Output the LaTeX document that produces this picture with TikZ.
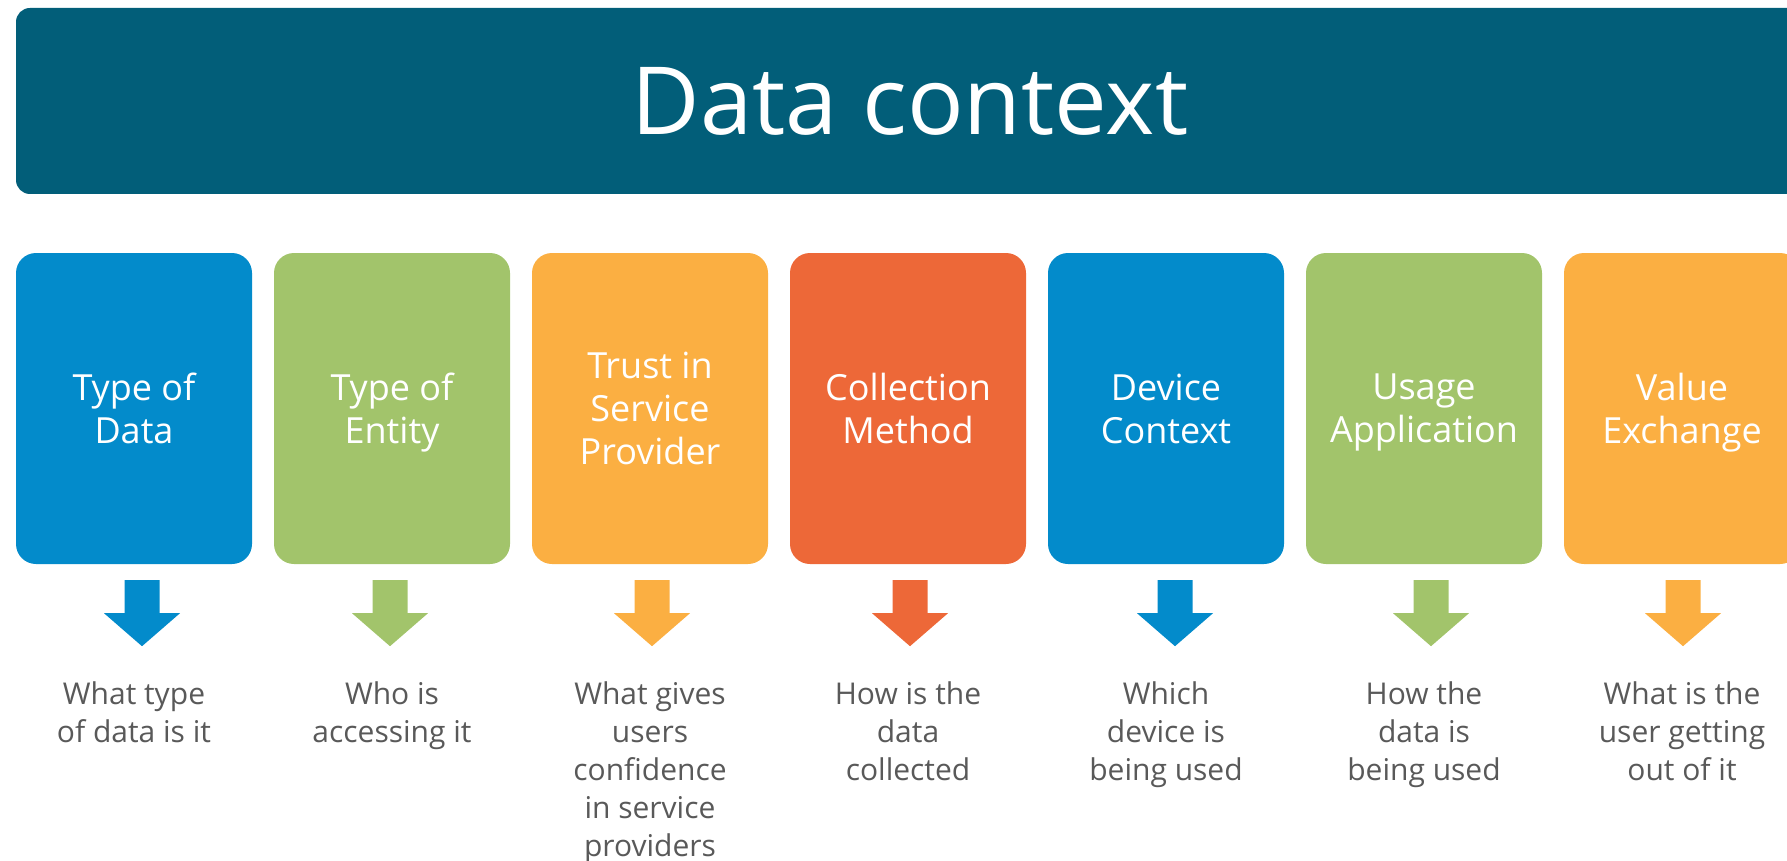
\documentclass[tikz,border=0pt]{standalone}
\usepackage{fontspec}
\setmainfont{Open Sans}
\definecolor{hdrteal}{HTML}{025E79}
\definecolor{tblue}{HTML}{038BCB}
\definecolor{tgreen}{HTML}{A2C46B}
\definecolor{torange}{HTML}{FBAF42}
\definecolor{tred}{HTML}{ED6838}
\definecolor{questgray}{HTML}{595959}

\begin{document}
\begin{tikzpicture}[x=1pt, y=-1pt,
    header/.style={fill=hdrteal, rounded corners=14pt, minimum width=1788pt, minimum height=186pt, inner sep=0pt, text=white, font=\fontsize{94}{108}\selectfont},
    topic/.style={rounded corners=20pt, minimum width=236pt, minimum height=311pt, inner sep=0pt, text=white, align=center, font=\fontsize{36}{43}\selectfont},
    question/.style={anchor=north, inner sep=0pt, text=questgray, align=center, font=\fontsize{30}{38}\selectfont}]
\useasboundingbox (0,0) rectangle (1787,861);
\clip (0,0) rectangle (1787,861);

% Title bar
\node[header] (title) at (910,101) {Data context};

% Topics with their arrows and questions (descenders smashed so all titles sit alike)
\foreach \i/\col/\topic/\quest/\dx in {
    1/tblue/{Type of\\Data}/{What type\\of data is it}/8,
    2/tgreen/{Type of\\\smash{Entity}}/{Who is\\accessing it}/-2,
    3/torange/{Trust in\\Service\\Provider}/{What gives\\users\\confidence\\in service\\providers}/2,
    4/tred/{Collection\\Method}/{How is the\\data\\collected}/2,
    5/tblue/{Device\\Context}/{Which\\device is\\being used}/9,
    6/tgreen/{Usage\\\smash{Application}}/{How the\\data is\\being used}/7,
    7/torange/{Value\\\smash{Exchange}}/{What is the\\user getting\\out of it}/1}{
  \node[topic, fill=\col] (topic\i) at ({134+(\i-1)*258},408.5) {\topic};
  \fill[\col] ([shift={(\dx-17.5,16)}]topic\i.south) -- ++(35,0) -- ++(0,33) -- ++(20.5,0)
      -- ++(-38,33) -- ++(-38,-33) -- ++(20.5,0) -- cycle;
  \node[question] (quest\i) at ([yshift=-117pt]topic\i.south) {\quest};
}
\end{tikzpicture}
\end{document}
